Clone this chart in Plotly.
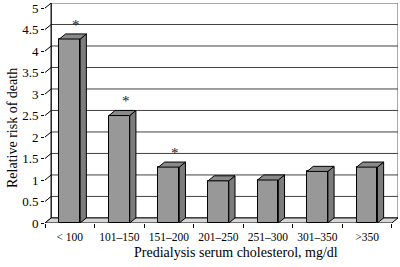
import plotly.graph_objects as go

categories = ["< 100", "101\u2013150", "151\u2013200", "201\u2013250", "251\u2013300", "301\u2013350", ">350"]
relative_risk = [4.28, 2.5, 1.3, 0.98, 1.0, 1.2, 1.3]
significant = [True, True, True, False, False, False, False]
y_ticks = [0, 0.5, 1, 1.5, 2, 2.5, 3, 3.5, 4, 4.5, 5]
y_tick_text = ["0", "0.5", "1", "1.5", "2", "2.5", "3", "3.5", "4", "4.5", "5"]

# 3D depth offsets (in axis units) and bar width
DX = 0.125
DY = 0.118
W = 0.42
n = len(categories)
xs = list(range(n))

FONT = "Liberation Serif, Times New Roman, serif"

fig = go.Figure()

# front faces
fig.add_trace(go.Bar(
    x=xs, y=relative_risk, width=W,
    marker=dict(color="#989898", line=dict(color="black", width=1)),
    showlegend=False, hoverinfo="skip",
))

# side and top faces
sx, sy = [], []
tx, ty = [], []
for i, v in zip(xs, relative_risk):
    r = i + W / 2
    l = i - W / 2
    sx += [r, r + DX, r + DX, r, r, None]
    sy += [0, DY, v + DY, v, 0, None]
    tx += [l, r, r + DX, l + DX, l, None]
    ty += [v, v, v + DY, v + DY, v, None]
fig.add_trace(go.Scatter(x=sx, y=sy, mode="lines", fill="toself",
                         fillcolor="#7c7c7c", line=dict(color="black", width=1),
                         showlegend=False, hoverinfo="skip"))
fig.add_trace(go.Scatter(x=tx, y=ty, mode="lines", fill="toself",
                         fillcolor="#8a8a8a", line=dict(color="black", width=1),
                         showlegend=False, hoverinfo="skip"))

shapes = []
x0 = -0.5
x1 = n - 0.5
ymax = y_ticks[-1]
# back wall
shapes.append(dict(type="rect", xref="x", yref="y", x0=x0 + DX, x1=x1 + DX, y0=DY, y1=ymax + DY,
                   line=dict(color="#555555", width=1), fillcolor="white", layer="below"))
# gridlines on back wall
for v in y_ticks[1:-1]:
    shapes.append(dict(type="line", xref="x", yref="y", x0=x0 + DX, x1=x1 + DX, y0=v + DY, y1=v + DY,
                       line=dict(color="#404040", width=1), layer="below"))
# left axis line (back)
shapes.append(dict(type="line", xref="x", yref="y", x0=x0 + DX, x1=x0 + DX, y0=DY, y1=ymax + DY,
                   line=dict(color="black", width=1), layer="below"))
# diagonal tick connectors
for v in y_ticks:
    shapes.append(dict(type="line", xref="x", yref="y", x0=x0, x1=x0 + DX, y0=v, y1=v + DY,
                       line=dict(color="black", width=1), layer="below"))
# floor
shapes.append(dict(type="path", xref="x", yref="y",
                   path=f"M {x0} 0 L {x1} 0 L {x1 + DX} {DY} L {x0 + DX} {DY} Z",
                   fillcolor="#d6d6d6", line=dict(color="black", width=1), layer="below"))

annotations = []
for i, v, s in zip(xs, relative_risk, significant):
    if s:
        annotations.append(dict(x=i + DX, y=v + DY, xref="x", yref="y", text="*",
                                showarrow=False, yanchor="bottom", yshift=-1,
                                font=dict(family=FONT, size=15, color="#222222")))
annotations.append(dict(x=0, y=0.5, xref="paper", yref="paper", xanchor="center", yanchor="middle",
                        xshift=-33, yshift=-15, text="Relative risk of death", textangle=-90,
                        showarrow=False, font=dict(family=FONT, size=14, color="black")))
annotations.append(dict(x=(3 - x0) / (x1 + DX - x0), y=0,
                        xref="paper", yref="paper", xanchor="center", yanchor="middle",
                        xshift=18, yshift=-29, text="Predialysis serum cholesterol, mg/dl",
                        showarrow=False, font=dict(family=FONT, size=14, color="black")))

fig.update_layout(
    width=400, height=267,
    margin=dict(l=45, r=2, t=3, b=44, autoexpand=False),
    paper_bgcolor="white", plot_bgcolor="white",
    bargap=0,
    shapes=shapes,
    annotations=annotations,
    xaxis=dict(range=[x0, x1 + DX], tickvals=xs, ticktext=categories, ticks="", showgrid=False,
               automargin=False, ticklabelstandoff=5,
               zeroline=False, showline=False, tickfont=dict(family=FONT, size=11.5, color="black"),
               minor=dict(tick0=0.5, dtick=1, ticks="outside", ticklen=4, tickcolor="black", showgrid=False)),
    yaxis=dict(range=[0, ymax + DY], tickvals=y_ticks, ticktext=y_tick_text, ticks="outside",
               automargin=False,
               ticklen=3, tickcolor="black", showgrid=False, zeroline=False, showline=False,
               tickfont=dict(family=FONT, size=13, color="black")),
    font=dict(family=FONT),
)

fig.write_html("out.html", config={"displayModeBar": False},
               post_script="document.body.style.margin='0';document.body.style.padding='0';")
